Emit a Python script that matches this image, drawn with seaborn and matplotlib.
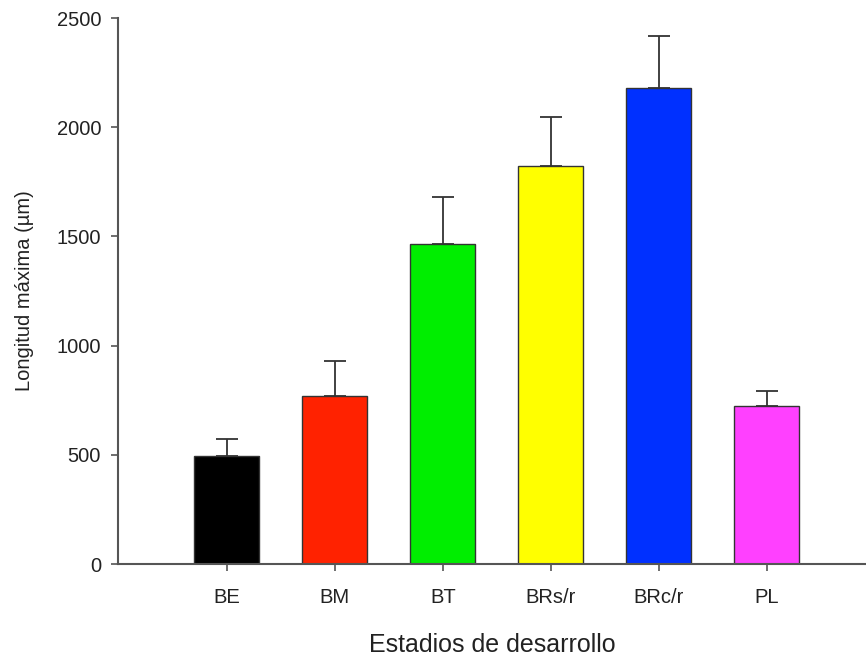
import matplotlib
matplotlib.use("Agg")
import matplotlib.pyplot as plt
import seaborn as sns
import pandas as pd
import numpy as np

# data
estadios = ["BE", "BM", "BT", "BRs/r", "BRc/r", "PL"]
longitud = [494, 768, 1467, 1824, 2180, 722]
error_sup = [77, 160, 215, 224, 238, 69]
colores = ["#000000", "#ff2200", "#00ee00", "#ffff00", "#0030ff", "#ff40ff"]

df = pd.DataFrame({"Estadio": estadios, "Longitud": longitud})

sns.set_style("ticks")
plt.rcParams["font.family"] = ["Liberation Sans", "DejaVu Sans"]

fig = plt.figure(figsize=(8.66, 6.57), dpi=100)
ax = fig.add_axes([0.136, 0.1415, 0.864, 0.831])

sns.barplot(
    data=df, x="Estadio", y="Longitud", hue="Estadio",
    palette=colores, saturation=1, errorbar=None, width=0.6,
    edgecolor="#333333", linewidth=1.0, legend=False, ax=ax, zorder=2
)

# upper error bars only
ax.errorbar(
    np.arange(len(estadios)), longitud,
    yerr=[np.zeros(len(error_sup)), error_sup],
    fmt="none", ecolor="#333333", elinewidth=1.3,
    capsize=8, capthick=1.3, zorder=1
)

ax.set_xlim(-1.01, 5.92)
ax.set_ylim(0, 2500)
ax.set_yticks([0, 500, 1000, 1500, 2000, 2500])

sns.despine(ax=ax)
for s in ["left", "bottom"]:
    ax.spines[s].set_color("#555555")
    ax.spines[s].set_linewidth(1.5)

ax.tick_params(axis="y", length=5, width=1.2, color="#555555",
               labelsize=14.5, pad=7, labelcolor="#222222")
ax.tick_params(axis="x", length=5, width=1.2, color="#555555",
               labelsize=14.5, pad=12, labelcolor="#222222")

ax.set_xlabel("Estadios de desarrollo", fontsize=18, color="#222222", labelpad=19)
ax.set_ylabel("Longitud máxima (µm)", fontsize=14.5, color="#222222", labelpad=16)

fig.savefig("out.png", dpi=100)
